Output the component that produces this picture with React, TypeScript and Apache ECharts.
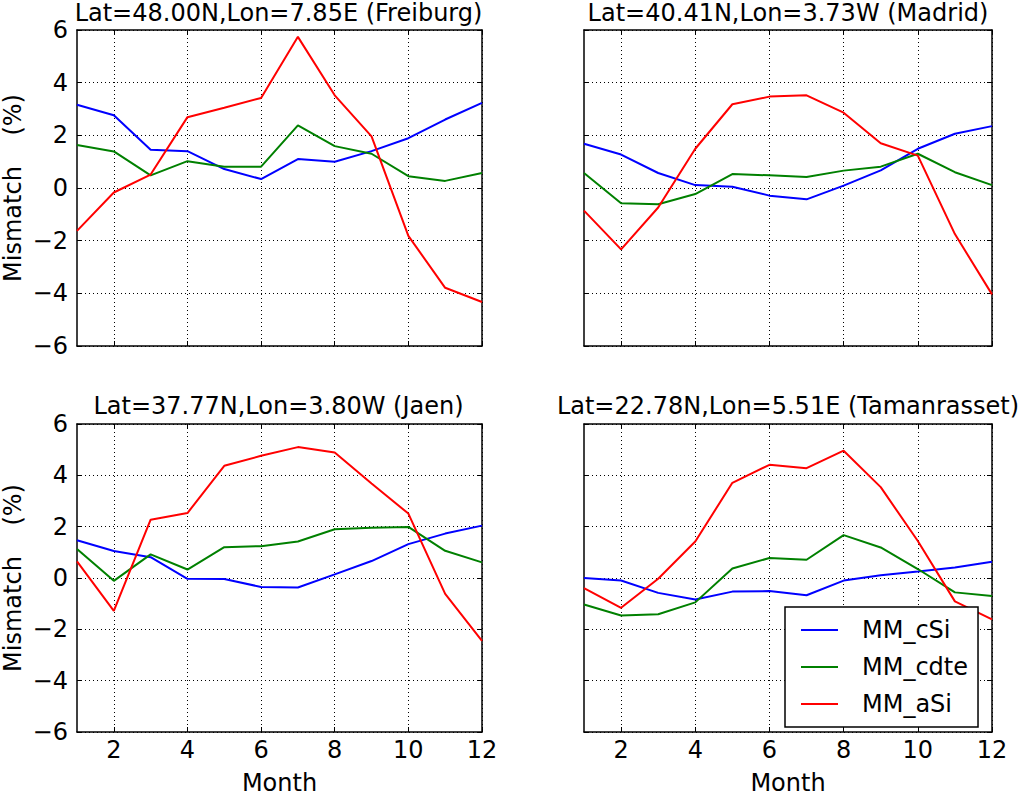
import React, { useEffect, useRef } from 'react';
import * as echarts from 'echarts';

// months on the x axis
const months = [1, 2, 3, 4, 5, 6, 7, 8, 9, 10, 11, 12];
const monthTicks = [2, 4, 6, 8, 10, 12];

const seriesNames = ['MM_cSi', 'MM_cdte', 'MM_aSi'];
const seriesColors = ['#0000ff', '#008000', '#ff0000'];

const siteTitles = [
	'Lat=48.00N,Lon=7.85E (Freiburg)',
	'Lat=40.41N,Lon=3.73W (Madrid)',
	'Lat=37.77N,Lon=3.80W (Jaen)',
	'Lat=22.78N,Lon=5.51E (Tamanrasset)'
];

// Freiburg
const freiburgCSi = [3.16, 2.76, 1.45, 1.4, 0.72, 0.34, 1.1, 1.0, 1.4, 1.89, 2.6, 3.23];
const freiburgCdte = [1.63, 1.39, 0.48, 1.02, 0.81, 0.81, 2.38, 1.59, 1.3, 0.45, 0.27, 0.57];
const freiburgASi = [-1.63, -0.17, 0.51, 2.69, 3.05, 3.42, 5.74, 3.52, 1.96, -1.82, -3.79, -4.33];

// Madrid
const madridCSi = [1.68, 1.27, 0.57, 0.11, 0.05, -0.29, -0.43, 0.09, 0.67, 1.49, 2.06, 2.35];
const madridCdte = [0.57, -0.58, -0.62, -0.23, 0.53, 0.48, 0.42, 0.66, 0.81, 1.3, 0.6, 0.11];
const madridASi = [-0.86, -2.33, -0.74, 1.49, 3.18, 3.47, 3.52, 2.86, 1.7, 1.23, -1.75, -4.04];

// Jaen
const jaenCSi = [1.47, 1.05, 0.81, -0.03, -0.04, -0.35, -0.37, 0.14, 0.66, 1.32, 1.73, 2.04];
const jaenCdte = [1.13, -0.11, 0.92, 0.33, 1.2, 1.24, 1.42, 1.9, 1.96, 1.99, 1.06, 0.61];
const jaenASi = [0.65, -1.28, 2.27, 2.53, 4.37, 4.76, 5.1, 4.89, 3.68, 2.51, -0.62, -2.45];

// Tamanrasset
const tamanCSi = [0.0, -0.1, -0.58, -0.84, -0.53, -0.51, -0.67, -0.1, 0.11, 0.25, 0.41, 0.63];
const tamanCdte = [-1.03, -1.46, -1.41, -0.95, 0.37, 0.78, 0.71, 1.67, 1.19, 0.35, -0.56, -0.7];
const tamanASi = [-0.39, -1.16, -0.03, 1.42, 3.71, 4.41, 4.28, 4.96, 3.54, 1.44, -0.91, -1.61];

const siteData = [
	[freiburgCSi, freiburgCdte, freiburgASi],
	[madridCSi, madridCdte, madridASi],
	[jaenCSi, jaenCdte, jaenASi],
	[tamanCSi, tamanCdte, tamanASi]
];

const FONT = 'DejaVu Sans, sans-serif';
const FS = 24;

const grids = [
	{ left: 75, top: 30, width: 407, height: 316 },
	{ left: 584, top: 30, width: 408, height: 316 },
	{ left: 75, top: 424, width: 407, height: 316 },
	{ left: 584, top: 424, width: 408, height: 316 }
];

const yFmt = (v: number) => (v < 0 ? '\u2212' + Math.abs(v) : String(v));

const App: React.FC = () => {
	const chartRef = useRef<HTMLDivElement>(null);

	useEffect(() => {
		document.body.style.margin = '0';
		if (!chartRef.current) return;
		const chart = echarts.init(chartRef.current, null, { renderer: 'svg' });

		const frameLine = { show: true, onZero: false, lineStyle: { color: '#000', width: 1.5 } };
		const tick = { show: true, inside: true, length: 5, lineStyle: { color: '#000', width: 1 } };
		const txt = { fontSize: FS, lineHeight: FS, color: '#000', fontFamily: FONT };

		const xAxes: any[] = [];
		const yAxes: any[] = [];
		grids.forEach((_, i) => {
			const bottomRow = i >= 2;
			const leftCol = i % 2 === 0;
			xAxes.push({
				type: 'value',
				gridIndex: i,
				min: 1,
				max: 12,
				position: 'bottom',
				axisLine: frameLine,
				axisTick: { ...tick, customValues: monthTicks },
				axisLabel: { show: bottomRow, customValues: monthTicks, margin: 6, ...txt },
				splitLine: { show: true, lineStyle: { color: '#000', type: [1, 3], width: 1 } },
				name: bottomRow ? 'Month' : '',
				nameLocation: 'middle',
				nameGap: 39,
				nameTextStyle: txt
			});
			yAxes.push({
				type: 'value',
				gridIndex: i,
				min: -6,
				max: 6,
				interval: 2,
				position: 'left',
				axisLine: frameLine,
				axisTick: tick,
				axisLabel: { show: leftCol, margin: 9, ...txt, formatter: yFmt },
				splitLine: { show: true, lineStyle: { color: '#000', type: [1, 3], width: 1 } },
				name: leftCol ? 'Mismatch    (%)' : '',
				nameLocation: 'middle',
				nameRotate: 90,
				nameGap: 52,
				nameTextStyle: txt
			});
		});
		// ticks on top and right edges
		grids.forEach((_, i) => {
			xAxes.push({
				type: 'value',
				gridIndex: i,
				min: 1,
				max: 12,
				position: 'top',
				axisLine: frameLine,
				axisTick: { ...tick, customValues: monthTicks },
				axisLabel: { show: false },
				splitLine: { show: false }
			});
			yAxes.push({
				type: 'value',
				gridIndex: i,
				min: -6,
				max: 6,
				interval: 2,
				position: 'right',
				axisLine: frameLine,
				axisTick: tick,
				axisLabel: { show: false },
				splitLine: { show: false }
			});
		});

		const series: any[] = [];
		siteData.forEach((rows, i) => {
			rows.forEach((vals, k) => {
				series.push({
					type: 'line',
					name: seriesNames[k],
					xAxisIndex: i,
					yAxisIndex: i,
					symbol: 'none',
					lineStyle: { color: seriesColors[k], width: 2 },
					itemStyle: { color: seriesColors[k] },
					data: months.map((m, j) => [m, vals[j]])
				});
			});
		});

		const option: echarts.EChartsOption = {
			animation: false,
			backgroundColor: '#fff',
			textStyle: { fontFamily: FONT },
			title: siteTitles.map((t, i) => ({
				text: t,
				left: grids[i].left + grids[i].width / 2,
				top: i < 2 ? 1 : 394,
				textAlign: 'center',
				padding: 0,
				textStyle: { ...txt, fontWeight: 'normal' }
			})),
			legend: {
				orient: 'vertical',
				left: 785,
				top: 607,
				data: seriesNames,
				icon: 'rect',
				itemWidth: 37,
				itemHeight: 2,
				itemGap: 13,
				padding: [11, 10, 11, 16],
				backgroundColor: '#fff',
				borderColor: '#000',
				borderWidth: 1.5,
				textStyle: { ...txt, padding: [0, 0, 0, 19] }
			},
			grid: grids,
			xAxis: xAxes,
			yAxis: yAxes,
			series
		};

		chart.setOption(option);
		return () => {
			chart.dispose();
		};
	}, []);

	return <div ref={chartRef} style={{ width: 1024, height: 796 }} />;
};

export default App;
